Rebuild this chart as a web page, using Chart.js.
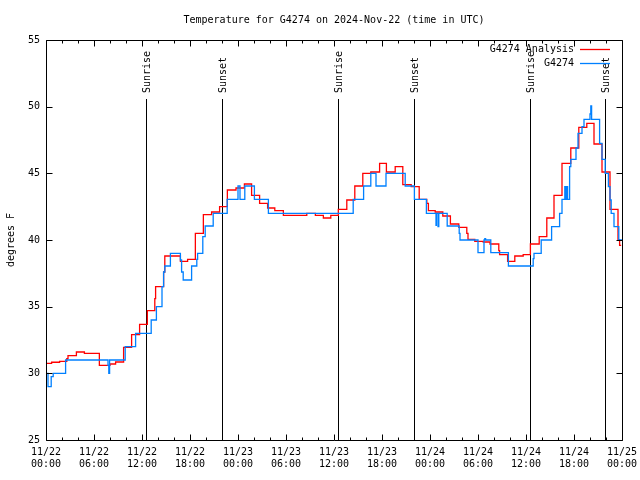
<!DOCTYPE html>
<html><head><meta charset="utf-8">
<style>html,body{margin:0;padding:0;background:#fff}canvas{display:block}</style>
<script src="https://cdn.jsdelivr.net/npm/chart.js@4.4.0/dist/chart.umd.min.js"></script>
</head><body>
<canvas id="c" width="640" height="480"></canvas>
<script>
// ---- data ----
const titleText = "Temperature for G4274 on 2024-Nov-22 (time in UTC)";
const yAxisLabel = "degrees F";
const xTickLabels = [["11/22","00:00"],["11/22","06:00"],["11/22","12:00"],["11/22","18:00"],
  ["11/23","00:00"],["11/23","06:00"],["11/23","12:00"],["11/23","18:00"],
  ["11/24","00:00"],["11/24","06:00"],["11/24","12:00"],["11/24","18:00"],["11/25","00:00"]];
const yTickValues = [25, 30, 35, 40, 45, 50, 55];
const sunTimes = [12.54, 22.03, 36.54, 46.03, 60.54, 69.92]; // hours since 11/22 00:00
const sunLabels = ["Sunrise", "Sunset", "Sunrise", "Sunset", "Sunrise", "Sunset"];
const seriesNames = ["G4274 Analysis", "G4274"];

// Analysis (red): hours since 11/22 00:00 UTC, degrees F
const analysisHours = [0,0.7,1.7,2.6,2.75,3.8,4.8,6.67,8.0,8.7,9.7,10.7,11.7,12.67,13.6,13.7,14.7,14.85,16.8,17.7,
  18.67,19.67,20.7,21.7,22.67,23.75,24.8,25.7,26.7,27.7,28.6,29.67,32.6,33.67,34.67,35.6,36.54,37.6,38.6,39.6,40.6,41.7,
  42.55,43.65,44.6,45.65,46.65,47.6,47.8,48.65,49.6,50.55,51.6,52.6,52.75,53.6,54.65,55.5,56.6,56.7,57.7,58.6,
  59.65,60.55,61.65,62.6,63.5,64.5,65.6,66.6,67.6,68.5,69.5,70.5,71.5,71.7,71.9];
const analysisTemps = [30.75,30.83,30.9,31.1,31.33,31.6,31.5,30.6,30.7,30.85,31.95,32.9,33.67,34.7,35.6,36.5,37.6,38.8,38.4,38.55,
  40.5,41.9,42.1,42.5,43.75,43.9,44.2,43.35,42.75,42.4,42.2,41.85,42.0,41.85,41.65,41.85,42.3,43.0,44.05,45.0,45.1,45.75,
  45.1,45.5,44.15,44.0,43.05,42.75,42.2,42.1,41.8,41.2,40.95,40.5,40.05,39.9,39.85,39.7,39.2,38.9,38.4,38.8,
  38.9,39.7,40.25,41.65,43.35,45.75,46.9,48.45,48.75,47.2,45.1,42.3,40.0,39.6,39.6];

// Observations (blue)
const obsHours = [0,0.25,0.65,0.9,2.45,7.75,7.85,7.95,9.9,11.2,13.15,13.8,14.5,14.7,14.85,15.55,16.8,16.95,17.15,18.2,
  18.85,18.95,19.6,19.9,20.9,22.65,24.0,24.25,24.85,26.05,27.8,38.4,39.7,40.6,41.25,42.5,44.9,46.05,47.55,48.75,
  48.8,49.0,49.1,50.15,51.65,51.75,54.0,54.75,54.85,54.95,55.6,57.8,60.9,61.0,61.9,63.2,64.2,64.5,64.85,64.95,
  65.05,65.2,65.45,65.6,66.25,66.5,67.0,67.25,68.0,68.1,68.2,69.2,69.5,69.9,70.3,70.5,70.65,71.0,71.6,72];
const obsTemps = [30.0,29.0,29.75,30.0,31.0,30.6,30.0,31.0,32.0,33.0,34.0,35.0,36.5,37.6,38.05,39.0,38.5,37.6,37.0,38.05,
  38.55,39.0,40.25,41.05,42.0,43.05,44.05,43.05,44.05,43.05,42.0,43.05,44.05,45.0,44.05,45.0,44.05,43.05,42.0,41.1,
  42.0,41.0,42.0,41.05,40.5,40.0,39.05,40.0,40.1,40.0,39.05,38.05,38.6,39.0,40.0,41.0,42.0,43.05,44.0,43.05,
  44.0,43.05,45.5,46.05,46.9,48.0,48.5,49.05,49.45,50.05,49.05,47.25,46.05,45.0,44.0,43.0,42.0,41.0,40.0,40.0];

const RED = "rgb(255,0,0)";
const BLUE = "rgb(0,128,255)";
const FONT = "DejaVu Sans Mono";

const toXY = (xs, ys) => xs.map((x, i) => ({x: x, y: ys[i]}));

const decor = {
  id: "decor",
  beforeDatasetsDraw(chart) {
    const ctx = chart.ctx, a = chart.chartArea, xs = chart.scales.x;
    ctx.save();
    ctx.strokeStyle = "#000"; ctx.lineWidth = 1;
    ctx.fillStyle = "#000";
    ctx.font = "10px '" + FONT + "'";
    sunTimes.forEach((t, i) => {
      const px = Math.round(xs.getPixelForValue(t)) + 0.5;
      ctx.beginPath(); ctx.moveTo(px, 99); ctx.lineTo(px, a.bottom); ctx.stroke();
      ctx.save();
      ctx.translate(px + 0.5, 93);
      ctx.rotate(-Math.PI / 2);
      ctx.textAlign = "left"; ctx.textBaseline = "middle";
      ctx.fillText(sunLabels[i], 0, 0);
      ctx.restore();
    });
    ctx.restore();
  },
  afterDraw(chart) {
    const ctx = chart.ctx, a = chart.chartArea, xs = chart.scales.x, ys = chart.scales.y;
    ctx.save();
    ctx.strokeStyle = "#000"; ctx.lineWidth = 1; ctx.fillStyle = "#000";
    const L = Math.round(a.left) + 0.5, R = Math.round(a.right) + 0.5;
    const T = Math.round(a.top) + 0.5, B = Math.round(a.bottom) + 0.5;
    ctx.beginPath();
    ctx.rect(L, T, R - L, B - T);
    // x ticks: minor every 2h, major every 6h
    for (let h = 0; h <= 72; h += 2) {
      const px = Math.round(xs.getPixelForValue(h)) + 0.5;
      const len = (h % 6 === 0) ? 6 : 3;
      ctx.moveTo(px, B); ctx.lineTo(px, B - len);
      ctx.moveTo(px, T); ctx.lineTo(px, T + len);
    }
    yTickValues.forEach(v => {
      const py = Math.round(ys.getPixelForValue(v)) + 0.5;
      ctx.moveTo(L, py); ctx.lineTo(L + 6, py);
      ctx.moveTo(R, py); ctx.lineTo(R - 6, py);
    });
    ctx.stroke();

    ctx.font = "10px '" + FONT + "'";
    // title
    ctx.textAlign = "center"; ctx.textBaseline = "middle";
    ctx.fillText(titleText, (a.left + a.right) / 2, 20);
    // y axis label
    ctx.save();
    ctx.translate(11, (a.top + a.bottom) / 2);
    ctx.rotate(-Math.PI / 2);
    ctx.fillText(yAxisLabel, 0, 0);
    ctx.restore();
    // legend
    const colors = [RED, BLUE];
    const rows = [49, 63];
    ctx.textAlign = "right";
    seriesNames.forEach((name, i) => {
      ctx.fillStyle = "#000";
      ctx.fillText(name, 574, rows[i]);
      ctx.strokeStyle = colors[i]; ctx.lineWidth = 1.3;
      ctx.beginPath(); ctx.moveTo(580, rows[i] + 0.5); ctx.lineTo(610, rows[i] + 0.5); ctx.stroke();
    });
    ctx.restore();
  }
};

new Chart(document.getElementById("c"), {
  type: "line",
  data: {
    datasets: [
      {label: seriesNames[1], data: toXY(obsHours, obsTemps), borderColor: BLUE, borderWidth: 1.3,
       stepped: true, pointRadius: 0, fill: false},
      {label: seriesNames[0], data: toXY(analysisHours, analysisTemps), borderColor: RED, borderWidth: 1.3,
       stepped: true, pointRadius: 0, fill: false}
    ]
  },
  options: {
    responsive: false, animation: false, devicePixelRatio: 1,
    layout: {padding: {top: 40, right: 18, left: 0, bottom: 0}},
    plugins: {legend: {display: false}, title: {display: false}, tooltip: {enabled: false}},
    scales: {
      x: {
        type: "linear", min: 0, max: 72,
        grid: {display: false, drawTicks: false}, border: {display: false},
        ticks: {stepSize: 6, autoSkip: false, maxRotation: 0, padding: 6, color: "#000",
          font: {family: FONT, size: 10}, callback: v => xTickLabels[Math.round(v / 6)]},
        afterFit: s => { s.height = 40; s.paddingLeft = 0; s.paddingRight = 0; }
      },
      y: {
        min: 25, max: 55,
        grid: {display: false, drawTicks: false}, border: {display: false},
        ticks: {stepSize: 5, padding: 6, color: "#000", font: {family: FONT, size: 10},
          callback: v => yTickValues.includes(v) ? String(v) : ""},
        afterFit: s => { s.width = 46; s.paddingTop = 0; s.paddingBottom = 0; }
      }
    }
  },
  plugins: [decor]
});
</script>
</body></html>
